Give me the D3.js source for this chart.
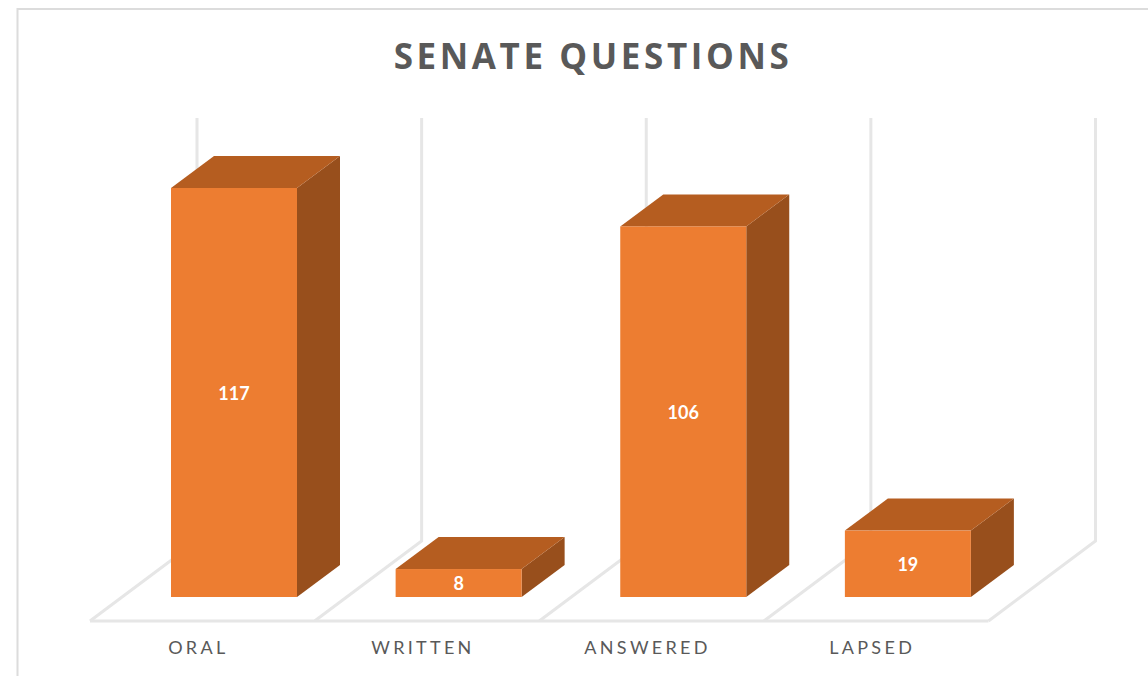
<!DOCTYPE html>
<html>
<head>
<meta charset="utf-8">
<script src="https://cdn.jsdelivr.net/npm/d3@7"></script>
<style>
  html, body { margin: 0; padding: 0; background: #fff; }
  svg { display: block; }
</style>
</head>
<body>
<svg id="chart"></svg>
<script>
const categories = ["ORAL", "WRITTEN", "ANSWERED", "LAPSED"];
const questions = [117, 8, 106, 19];
const chartTitle = "SENATE QUESTIONS";

const width = 1148,
  height = 676;

// floor front edge and baseline of the bars
const floorLeft = 90,
  floorRight = 988.5,
  floorY = 621,
  baseY = 597;

// 3d offset of the back wall and of the bar depth
const wallDx = 107,
  wallDy = 80,
  barDx = 43,
  barDy = 32,
  wallTop = 118;

const colorFront = "#ED7D31",
  colorTop = "#B55D20",
  colorSide = "#984F1C",
  colorGrid = "#E6E6E6",
  colorText = "#595959";

const svg = d3.select("svg#chart")
  .attr("width", width)
  .attr("height", height);

const x = d3.scaleBand()
  .domain(categories)
  .range([floorLeft, floorRight])
  .paddingInner(0);

const y = d3.scaleLinear()
  .domain([0, 117])
  .range([baseY, 188]);

// Chart frame, the picture is cut off at the right and at the bottom
svg.append("path")
  .attr("d", "M17.5,676V9H1148")
  .attr("fill", "none")
  .attr("stroke", "#DCDCDC")
  .attr("stroke-width", 2);

// Title
svg.append("text")
  .attr("x", 593)
  .attr("y", 69)
  .attr("text-anchor", "middle")
  .attr("font-family", "Open Sans")
  .attr("font-weight", 700)
  .attr("font-size", 35)
  .attr("letter-spacing", 3.6)
  .attr("fill", colorText)
  .text(chartTitle);

// Floor and back wall lines
const edges = [...categories.map(c => x(c)), floorRight];
const grid = svg.append("g")
  .attr("fill", "none")
  .attr("stroke", colorGrid)
  .attr("stroke-width", 3);

edges.forEach(e => {
  grid.append("path")
    .attr("d", `M${e},${floorY}L${e + wallDx},${floorY - wallDy}V${wallTop}`);
});
grid.append("path")
  .attr("d", `M${floorLeft},${floorY}H${floorRight}`);

// Bars
const bars = svg.selectAll("g.bar")
  .data(categories.map((c, i) => ({ name: c, value: questions[i] })))
  .enter().append("g")
  .classed("bar", true);

const barWidth = 126;
const barLeft = d => x(d.name) + 81;

bars.append("path")
  .attr("fill", colorSide)
  .attr("d", d => {
    const r = barLeft(d) + barWidth;
    return `M${r},${y(d.value)}l${barDx},${-barDy}V${baseY - barDy}l${-barDx},${barDy}Z`;
  });

bars.append("path")
  .attr("fill", colorTop)
  .attr("d", d => `M${barLeft(d)},${y(d.value)}l${barDx},${-barDy}h${barWidth}l${-barDx},${barDy}Z`);

bars.append("rect")
  .attr("fill", colorFront)
  .attr("x", barLeft)
  .attr("y", d => y(d.value))
  .attr("width", barWidth)
  .attr("height", d => baseY - y(d.value));

// Value labels
bars.append("text")
  .attr("x", d => barLeft(d) + barWidth / 2)
  .attr("y", d => (y(d.value) + baseY) / 2 + 7)
  .attr("text-anchor", "middle")
  .attr("font-family", "Lato")
  .attr("font-weight", 700)
  .attr("font-size", 18)
  .attr("fill", "#fff")
  .text(d => d.value);

// Category labels
svg.selectAll("text.category")
  .data(categories)
  .enter().append("text")
  .classed("category", true)
  .attr("x", d => x(d) + x.bandwidth() / 2 - 4)
  .attr("y", 654)
  .attr("text-anchor", "middle")
  .attr("font-family", "Lato")
  .attr("font-size", 18)
  .attr("letter-spacing", 3.3)
  .attr("fill", colorText)
  .text(d => d);
</script>
</body>
</html>
